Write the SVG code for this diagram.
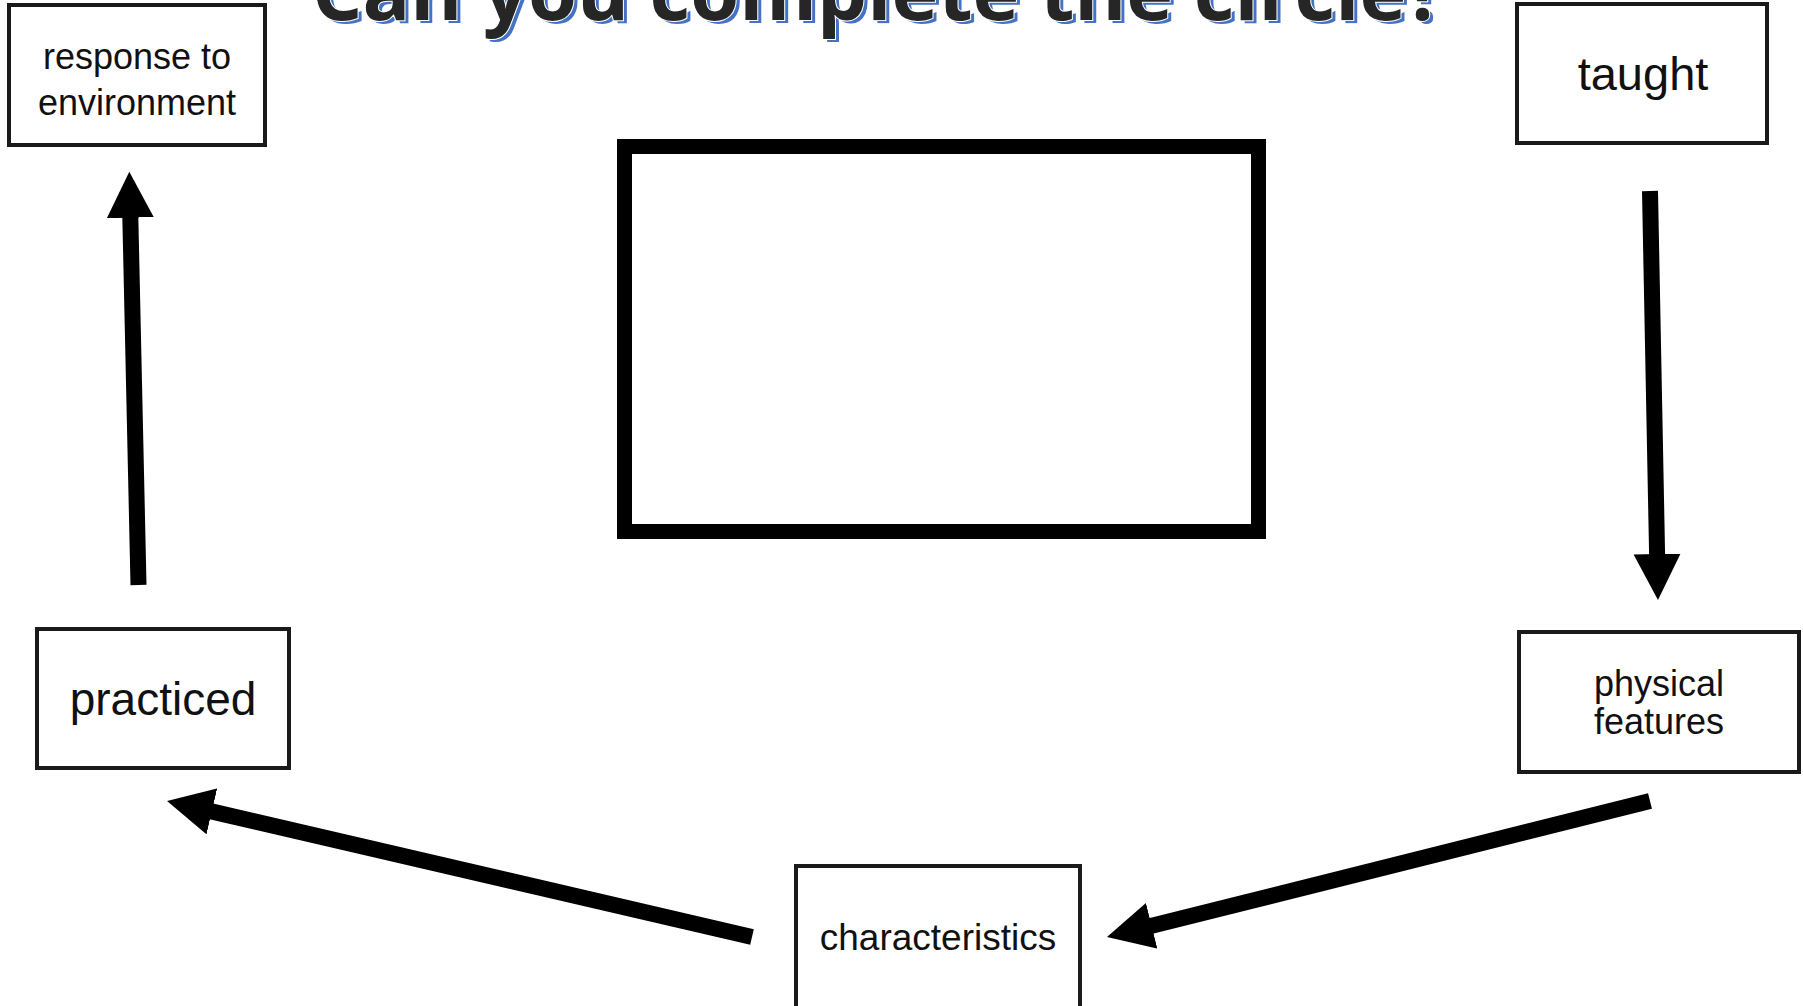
<svg xmlns="http://www.w3.org/2000/svg" width="1803" height="1006" viewBox="0 0 1803 1006">
<style>
.box{fill:#fff;stroke:#1a1a1a;stroke-width:4}
.lbl{font-family:"Liberation Sans",Arial,sans-serif;fill:#111;text-anchor:middle}
.conn{stroke:#000;stroke-width:16;fill:none}
.title{font-family:"Open Sans","Liberation Sans",sans-serif;font-weight:bold;font-size:78px}
</style>
<defs>
<marker id="ah" markerUnits="userSpaceOnUse" markerWidth="48" markerHeight="48" refX="6" refY="23.5" orient="auto" viewBox="0 0 48 48">
<path d="M0,0 L46,23.5 L0,47 z" fill="#000"/>
</marker>
</defs>
<rect width="1803" height="1006" fill="#fff"/>
<g id="title">
<text class="title" x="316" y="23" fill="#4472C4" textLength="1132" lengthAdjust="spacingAndGlyphs">Can you complete the circle?</text>
<text class="title" x="312" y="20" fill="#262626" stroke="#fff" stroke-width="2" paint-order="stroke" textLength="1132" lengthAdjust="spacingAndGlyphs">Can you complete the circle?</text>
</g>
<g id="center-box">
<rect x="624.5" y="146.5" width="634" height="385" fill="#fff" stroke="#000" stroke-width="15"/>
</g>
<g id="connectors">
<line class="conn" x1="138.5" y1="585" x2="130.2" y2="211.7" marker-end="url(#ah)"/>
<line class="conn" x1="1650" y1="191" x2="1657.2" y2="560" marker-end="url(#ah)"/>
<line class="conn" x1="1650" y1="801" x2="1145.8" y2="927.3" marker-end="url(#ah)"/>
<line class="conn" x1="752" y1="937" x2="206" y2="810.1" marker-end="url(#ah)"/>
</g>
<g id="node-response">
<rect class="box" x="9" y="5" width="256" height="140"/>
<text class="lbl" x="137" y="69" font-size="36">response to</text>
<text class="lbl" x="137" y="115" font-size="36">environment</text>
</g>
<g id="node-taught">
<rect class="box" x="1517" y="4" width="250" height="139"/>
<text class="lbl" x="1643" y="90" font-size="47">taught</text>
</g>
<g id="node-physical">
<rect class="box" x="1519" y="632" width="280" height="140"/>
<text class="lbl" x="1659" y="696" font-size="36">physical</text>
<text class="lbl" x="1659" y="734" font-size="36">features</text>
</g>
<g id="node-characteristics">
<rect class="box" x="796" y="866" width="284" height="150"/>
<text class="lbl" x="938" y="950" font-size="37">characteristics</text>
</g>
<g id="node-practiced">
<rect class="box" x="37" y="629" width="252" height="139"/>
<text class="lbl" x="163" y="715" font-size="46">practiced</text>
</g>
</svg>
